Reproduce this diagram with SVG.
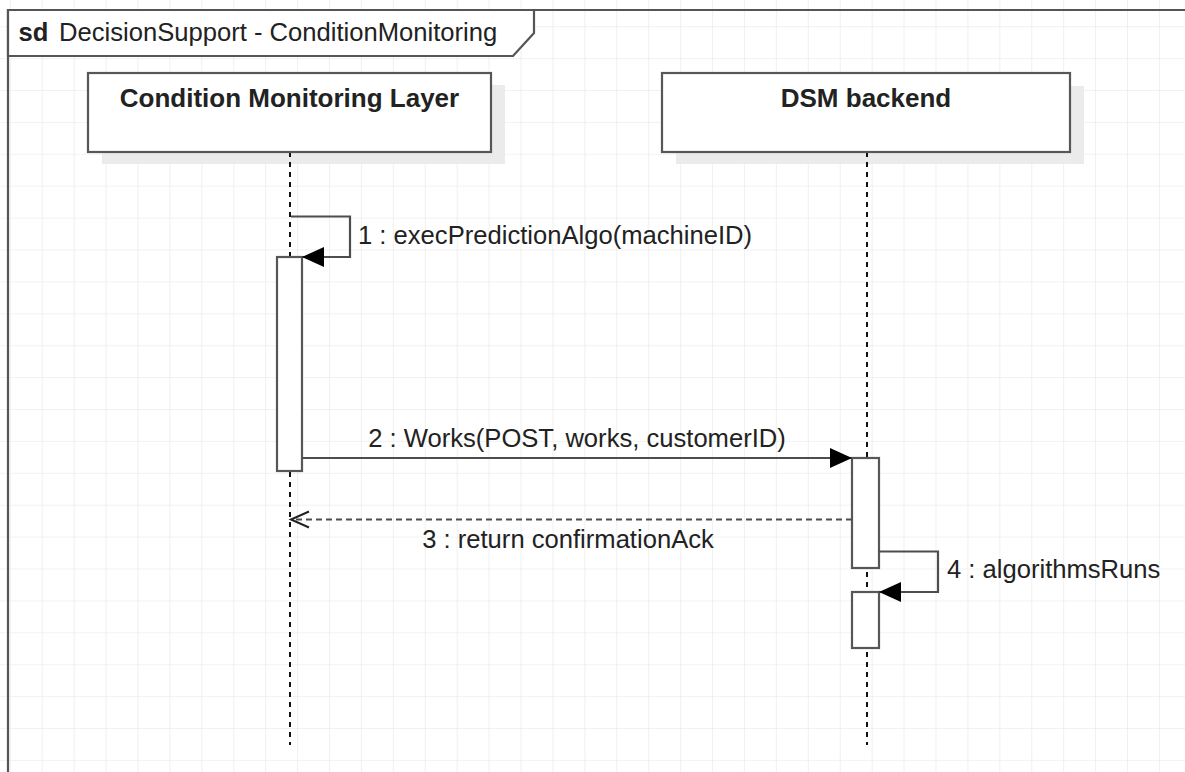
<svg xmlns="http://www.w3.org/2000/svg" width="1185" height="772" viewBox="0 0 1185 772">
  <style>
    text { font-family: "Liberation Sans", Arial, sans-serif; fill: #222; }
    .head { font-size: 26px; font-weight: bold; text-anchor: middle; }
    .lbl { font-size: 25.6px; }
    .box { fill: #fff; stroke: #575757; stroke-width: 2.2; }
    .shadow { fill: #ebebeb; }
    .act { fill: #fff; stroke: #575757; stroke-width: 2.2; }
    .life { stroke: #111; stroke-width: 2; stroke-dasharray: 5 5; fill: none; }
    .msg { stroke: #4d4d4d; stroke-width: 2.2; fill: none; }
    .ret { stroke: #4d4d4d; stroke-width: 2.2; fill: none; stroke-dasharray: 6 4; }
  </style>
  <defs>
    <pattern id="grid" patternUnits="userSpaceOnUse" x="9.8" y="26.2" width="31.92" height="31.9">
      <path d="M0,0 H31.92 M0,0 V31.9" stroke="#e6e6e6" stroke-width="1.2" fill="none"/>
    </pattern>
    <marker id="filled" markerUnits="userSpaceOnUse" markerWidth="24" markerHeight="22" refX="22" refY="10" orient="auto">
      <path d="M0,0 L22,10 L0,20 Z" fill="#000"/>
    </marker>
    <marker id="open" markerUnits="userSpaceOnUse" markerWidth="22" markerHeight="20" refX="19" refY="9" orient="auto">
      <path d="M1,1 L19,9 L1,17" fill="none" stroke="#222" stroke-width="2"/>
    </marker>
  </defs>

  <!-- canvas with grid -->
  <rect width="1185" height="772" fill="#fff"/>
  <rect width="1185" height="772" fill="url(#grid)"/>

  <!-- interaction frame -->
  <g id="frame">
    <path d="M8,772 V10 H1185" fill="none" stroke="#555" stroke-width="2.2"/>
    <path d="M8,10 H534 V33 L513,56 H8 Z" fill="#fff" stroke="#555" stroke-width="2.2"/>
    <text class="lbl" x="18.5" y="41"><tspan font-weight="bold">sd</tspan><tspan x="59">DecisionSupport - ConditionMonitoring</tspan></text>
  </g>

  <!-- lifeline: Condition Monitoring Layer -->
  <g id="cml">
    <rect class="shadow" x="102" y="85" width="403" height="79"/>
    <line class="life" x1="290" y1="152" x2="290" y2="745"/>
    <rect class="box" x="88" y="73" width="403" height="79"/>
    <text class="head" x="289.5" y="107">Condition Monitoring Layer</text>
    <rect class="act" x="277" y="257" width="25" height="214"/>
  </g>

  <!-- lifeline: DSM backend -->
  <g id="dsm">
    <rect class="shadow" x="676" y="86" width="408" height="78"/>
    <line class="life" x1="867" y1="152" x2="867" y2="745"/>
    <rect class="box" x="662" y="73" width="408" height="79"/>
    <text class="head" x="866" y="107">DSM backend</text>
    <rect class="act" x="852" y="458" width="27" height="110"/>
    <rect class="act" x="852" y="592" width="27" height="56"/>
  </g>

  <!-- messages -->
  <g id="connectors">
    <path class="msg" d="M291,216.5 H350 V257 H302" marker-end="url(#filled)"/>
    <text class="lbl" x="358" y="244">1 : execPredictionAlgo(machineID)</text>

    <path class="msg" d="M302,458 H852" marker-end="url(#filled)"/>
    <text class="lbl" x="577" y="447" text-anchor="middle">2 : Works(POST, works, customerID)</text>

    <path class="ret" d="M852,519.5 H291" marker-end="url(#open)"/>
    <text class="lbl" x="568" y="548" text-anchor="middle">3 : return confirmationAck</text>

    <path class="msg" d="M879,551.5 H938 V592 H879" marker-end="url(#filled)"/>
    <text class="lbl" x="947" y="578">4 : algorithmsRuns</text>
  </g>
</svg>
